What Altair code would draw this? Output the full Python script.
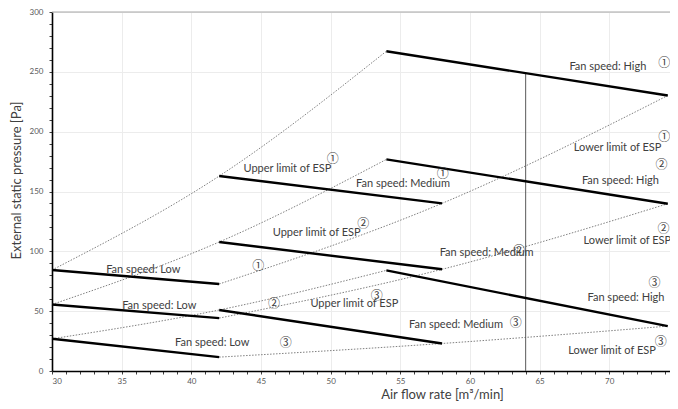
import altair as alt
import pandas as pd

# ---- solid operating lines (fan speed curves) ----
seg_name = ["Low 1", "Low 2", "Low 3", "Medium 1", "Medium 2", "Medium 3", "High 1", "High 2", "High 3"]
seg_x0 = [30, 30, 30, 42, 42, 42, 54, 54, 54]
seg_x1 = [42, 42, 42, 58, 58, 58, 74.2, 74.2, 74.2]
seg_y0 = [84.4, 55.6, 26.9, 162.9, 107.8, 51.0, 267.2, 176.8, 84.1]
seg_y1 = [72.7, 44.2, 11.6, 140.1, 85.0, 23.0, 230.2, 139.8, 37.5]

# ---- dotted ESP limit curves ----
lim_name = ["Upper 1", "Upper 2", "Upper 3", "Lower 1", "Lower 2", "Lower 3"]
lim_x = [[30, 42, 54], [30, 42, 54], [30, 42, 54],
         [42, 58, 74.2], [42, 58, 74.2], [42, 58, 74.2]]
lim_y = [[84.4, 162.9, 267.2], [55.6, 107.8, 176.8], [26.9, 51.0, 84.1],
         [72.7, 140.1, 230.2], [44.2, 85.0, 139.8], [11.6, 23.0, 37.5]]

# ---- vertical reference line ----
ref_x = [64]
ref_y0 = [0]
ref_y1 = [249]

# ---- top frame line ----
frame_y = [300]

# ---- text labels ----
lab_text = ["Fan speed:  High", "Upper limit of ESP", "Fan speed:  Medium", "Lower limit of ESP",
            "Fan speed:  High", "Upper limit of ESP", "Fan speed:  Low", "Fan speed:  Low",
            "Upper limit of ESP", "Fan speed:  Low", "Fan speed:  Medium", "Lower limit of ESP",
            "Fan speed:  High", "Fan speed:  Medium", "Lower limit of ESP"]
lab_x = [69.9, 46.9, 55.2, 70.6, 70.8, 49.0, 36.55, 37.7, 51.7, 41.5, 61.2, 71.3, 71.2, 59.0, 70.2]
lab_y = [254.1, 169.1, 156.6, 186.0, 159.1, 115.7, 84.4, 54.6, 56.0, 23.1, 98.6, 108.8, 61.1, 38.3, 17.1]

num_text = ["①", "①", "①", "①", "②", "②", "①", "②", "③", "③", "②", "②", "③", "③", "③"]
num_x = [73.95, 50.15, 58.05, 73.95, 73.75, 52.35, 44.81, 45.94, 53.31, 46.78, 63.52, 73.9, 73.24, 63.29, 73.7]
num_y = [257.4, 177.2, 164.5, 195.5, 171.9, 123.0, 87.6, 55.9, 62.8, 23.3, 99.9, 118.4, 73.3, 40.2, 24.4]

x_ticks = list(range(30, 75))
y_ticks = list(range(0, 301, 10))

seg_df = pd.DataFrame({"name": seg_name, "x0": seg_x0, "x1": seg_x1, "y0": seg_y0, "y1": seg_y1})
rows = []
for n, xs, ys in zip(lim_name, lim_x, lim_y):
    for i, (a, b) in enumerate(zip(xs, ys)):
        rows.append({"name": n, "x": a, "y": b, "order": i})
lim_df = pd.DataFrame(rows)
ref_df = pd.DataFrame({"x": ref_x, "y0": ref_y0, "y1": ref_y1})
frame_df = pd.DataFrame({"y": frame_y})
lab_df = pd.DataFrame({"x": lab_x, "y": lab_y, "text": lab_text})
num_df = pd.DataFrame({"x": num_x, "y": num_y, "text": num_text})

xscale = alt.Scale(domain=[30, 74.36], nice=False, zero=False)
yscale = alt.Scale(domain=[0, 300], nice=False)

xaxis = alt.Axis(
    values=x_ticks,
    tickCount=200,
    format="d",
    labelExpr="datum.value % 5 == 0 ? datum.label : ''",
    labelOverlap=False,
    title="Air flow rate [m³/min]",
    titleX=390, titleY=23, titleBaseline="middle", titleAlign="center",
    titleFont="Lato", titleFontSize=13, titleFontWeight="normal", titleColor="#404040",
    labelFont="Lato", labelFontSize=8, labelColor="#595959", labelPadding=3,
    tickSize=3, tickColor="#404040", domainColor="#000000", domainWidth=1.6,
    grid=True, gridColor="#ececec",
    gridOpacity={"condition": {"test": "datum.value % 5 == 0", "value": 1}, "value": 0},
)
yaxis = alt.Axis(
    values=y_ticks,
    tickCount=200,
    format="d",
    labelExpr="datum.value % 50 == 0 ? datum.label : ''",
    labelOverlap=False,
    title="External static pressure [Pa]",
    titleX=-36, titleY=168, titleBaseline="middle", titleAlign="center",
    titleFont="Lato", titleFontSize=13, titleFontWeight="normal", titleColor="#404040",
    labelFont="Lato", labelFontSize=8, labelColor="#595959", labelPadding=6,
    tickSize=3, tickColor="#404040", domainColor="#000000", domainWidth=1.6,
    grid=True, gridColor="#ececec",
    gridOpacity={"condition": {"test": "datum.value % 50 == 0", "value": 1}, "value": 0},
)

limits = alt.Chart(lim_df).mark_line(
    interpolate="natural", color="#808080", strokeWidth=1, strokeDash=[1.5, 1.5]
).encode(
    x=alt.X("x:Q", scale=xscale, axis=xaxis),
    y=alt.Y("y:Q", scale=yscale, axis=yaxis),
    detail="name:N",
    order="order:Q",
)

frame = alt.Chart(frame_df).mark_rule(color="#a6a6a6", strokeWidth=1).encode(
    y=alt.Y("y:Q", scale=yscale, axis=yaxis)
)

segs = alt.Chart(seg_df).mark_rule(color="#000000", strokeWidth=2.4).encode(
    x="x0:Q", x2="x1:Q", y="y0:Q", y2="y1:Q"
)

ref = alt.Chart(ref_df).mark_rule(color="#595959", strokeWidth=1).encode(
    x="x:Q", y="y0:Q", y2="y1:Q"
)

labels = alt.Chart(lab_df).mark_text(
    font="Lato", fontSize=11, color="#404040"
).encode(x="x:Q", y="y:Q", text="text:N")

nums = alt.Chart(num_df).mark_text(
    font="Noto Sans CJK JP", fontSize=12, color="#404040"
).encode(x="x:Q", y="y:Q", text="text:N")

chart = alt.layer(limits, frame, ref, segs, labels, nums).properties(
    width=618, height=359,
    autosize=alt.AutoSizeParams(type="none"),
    padding={"left": 44, "top": 4, "right": 0, "bottom": 30},
).configure_view(stroke=None).configure_axis(labelOverlap=False)

chart.save("out.html", embed_options={"renderer": "svg", "actions": False})
